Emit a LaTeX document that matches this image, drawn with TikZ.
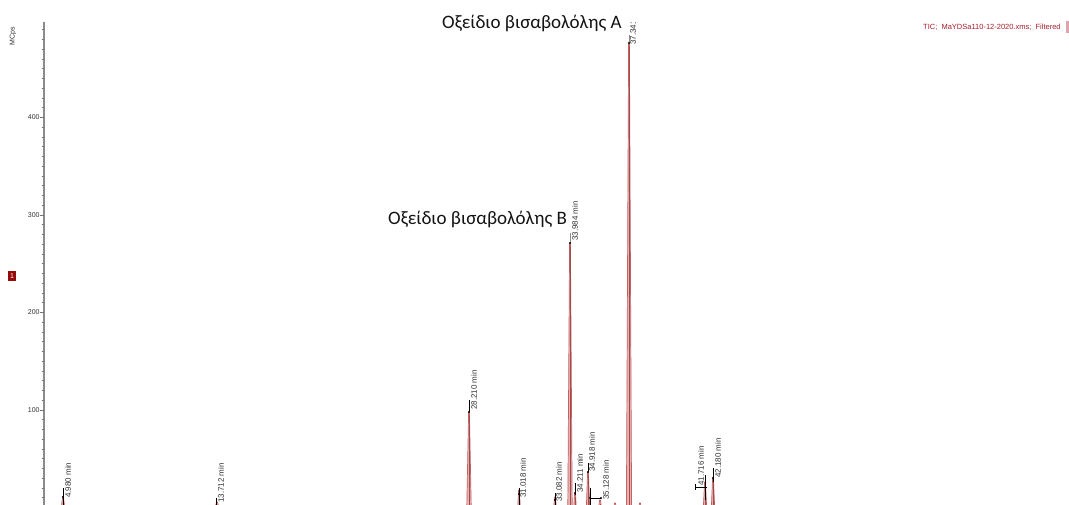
\documentclass[tikz,border=0pt]{standalone}
\usepackage{fontspec}
\setmainfont{Liberation Sans}
\newfontfamily\grfont{Carlito}
\definecolor{pkcol}{RGB}{196,96,96}
\definecolor{pklight}{RGB}{232,178,178}
\definecolor{ticcol}{RGB}{165,30,45}
\definecolor{boxred}{RGB}{150,10,10}
\definecolor{axcol}{RGB}{140,140,140}
\definecolor{grtext}{RGB}{20,20,20}
\tikzset{
  pkfill/.style={fill=pklight, draw=pkcol, line width=0.7pt},
  pkcore/.style={draw=pkcol!80!black, line width=0.8pt},
  marker/.style={draw=black, line width=0.7pt},
  plabel/.style={rotate=90, anchor=west, inner sep=0pt, font=\fontsize{8}{9}\selectfont, text=black!80},
  ticklab/.style={anchor=east, inner sep=0pt, font=\fontsize{7}{8}\selectfont, text=black!80},
  greek/.style={inner sep=0pt, font=\grfont\fontsize{19}{22}\selectfont, text=grtext}
}
\begin{document}
\begin{tikzpicture}[x=1pt,y=-1pt]
\useasboundingbox (0,0) rectangle (1069,505);
\fill[white] (0,0) rectangle (1069,505);
% axis
\draw[axcol, line width=1.3pt] (44,22) -- (44,506);
\foreach \v in {10,20,...,490}{
  \draw[black!55, line width=0.7pt] ({41.6},{507.5-0.975*\v}) -- (44,{507.5-0.975*\v});
}
\foreach \v in {100,200,300,400}{
  \draw[black!55, line width=0.7pt] (39.5,{507.5-0.975*\v}) -- (44,{507.5-0.975*\v});
  \node[ticklab] (t\v) at (39.8,{507.5-0.975*\v}) {\v};
}
\node[rotate=90, inner sep=0pt, font=\fontsize{7}{8}\selectfont, text=black!80] (unit) at (13,36) {MCps};
\node[fill=boxred, text=white, inner sep=1.2pt, minimum width=8pt, minimum height=10pt, font=\fontsize{7}{8}\selectfont] (one) at (12,276) {1};
\node[anchor=west, inner sep=0pt, font=\fontsize{7.5}{9}\selectfont, text=ticcol] (tic) at (923,27) {TIC;\ \ MaYDSa110-12-2020.xms;\ \ Filtered};
\fill[ticcol!40] (1066,21) rectangle (1069,33);
% peaks
\foreach \x/\t/\w in {63/497/1.5, 217/502/1.5, 469/412/2.2, 519/490/1.2, 555/497/1.2, 570/243/2.2, 575/493/1.2, 588/472/1.6, 600/500/1.2, 629/43/2.6, 705/482/1.6, 713/478/1.6, 615/503/1, 640/503/1}{
  \filldraw[pkfill] (\x-\w,506) -- (\x-0.4,\t) -- (\x+0.4,\t) -- (\x+\w,506) -- cycle;
  \draw[pkcore] (\x,506) -- (\x,\t+4);
}
\draw[pkcol, line width=0.5pt] (44,505) -- (1069,505);
% markers
\draw[marker] (63,488) -- (63,505); \fill (63,497) circle (1.1);
\draw[marker] (216,498) -- (216,505);
\draw[marker] (469,400) -- (469,412); \fill (469,412) circle (1.1);
\draw[marker] (519,488) -- (519,505); \fill (519,494) circle (1.1);
\draw[marker] (555,493) -- (555,505); \fill (555,500) circle (1.1);
\draw[axcol, line width=0.7pt] (570,233) -- (570,243); \fill (570,243) circle (1.1);
\draw[marker] (575,483) -- (575,495); \fill (575,493) circle (1.1);
\draw[marker] (588,463) -- (588,472); \fill (588,472) circle (1.1);
\draw[marker] (590,488) -- (590,505); \draw[marker] (590,498) -- (601,498); \fill (590,498) circle (1.1); \fill (601,498) circle (1.1);
\draw[axcol, line width=0.7pt] (629,35) -- (629,43); \fill (629,43) circle (1.1);
\draw[marker] (705,475) -- (705,500); \draw[marker] (695,487) -- (707,487); \draw[marker] (695,484) -- (695,490);
\draw[marker] (713,468) -- (713,482); \fill (713,478) circle (1.1);
% peak labels
\node[plabel] (p1) at (68,498) {4.980 min};
\node[plabel] (p2) at (221,503) {13.712 min};
\node[plabel] (p3) at (474,410) {28.210 min};
\node[plabel] (p4) at (523,498) {31.018 min};
\node[plabel] (p5) at (559,502) {33.082 min};
\node[plabel] (p6) at (575,241) {33.984 min};
\node[plabel] (p7) at (580,493) {34.211 min};
\node[plabel] (p8) at (592,472) {34.918 min};
\node[plabel] (p9) at (606,500) {35.128 min};
\begin{scope}
\clip (600,23) rectangle (660,60);
\node[plabel] (p10) at (633,45) {37.341 min};
\end{scope}
\node[plabel] (p11) at (701,486) {41.716 min};
\node[plabel] (p12) at (718,478) {42.180 min};
% greek labels
\node[greek, anchor=west] (ga) at (442,23) {Οξείδιο βισαβολόλης A};
\node[greek, anchor=west] (gb) at (388,219.5) {Οξείδιο βισαβολόλης B};
\end{tikzpicture}
\end{document}
